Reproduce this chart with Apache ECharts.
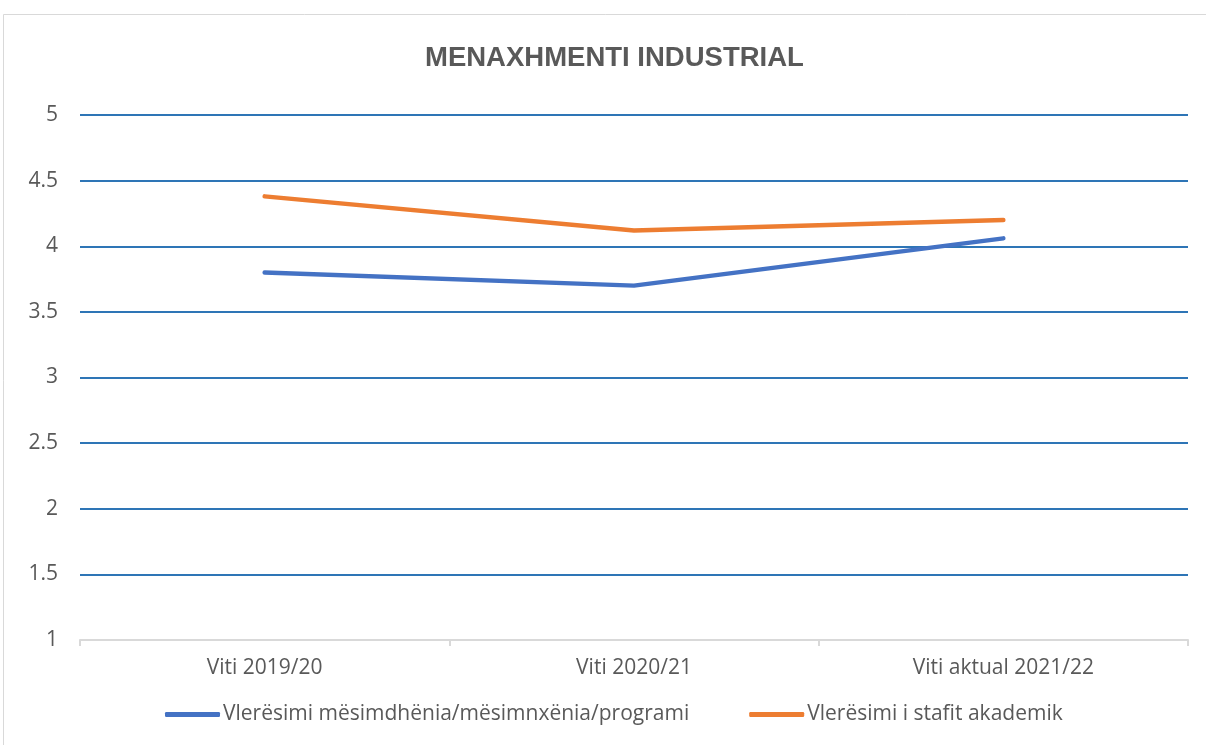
<!DOCTYPE html>
<html><head><meta charset="utf-8">
<script src="https://cdn.jsdelivr.net/npm/echarts@6/dist/echarts.min.js"></script>
<style>html,body{margin:0;padding:0;background:#fff}#c{width:1206px;height:745px}</style>
</head><body><div id="c"></div>
<script>
const categories = ['Viti 2019/20', 'Viti 2020/21', 'Viti aktual 2021/22'];
const seriesNames = ['Vlerësimi mësimdhënia/mësimnxënia/programi', 'Vlerësimi i stafit akademik'];
const teaching = [3.80, 3.70, 4.06];
const staff = [4.38, 4.12, 4.20];
const yTicks = [1, 1.5, 2, 2.5, 3, 3.5, 4, 4.5, 5];

const FONT = '"Open Sans", "Liberation Sans", sans-serif';
const TFONT = '"Liberation Sans", sans-serif';
const chart = echarts.init(document.getElementById('c'), null, {renderer: 'canvas'});
chart.setOption({
  animation: false,
  backgroundColor: '#fff',
  graphic: [{type: 'rect', shape: {x: 3.5, y: 14.5, width: 1210, height: 740}, style: {fill: 'none', stroke: '#d9d9d9', lineWidth: 1}, silent: true}],
  title: {text: 'MENAXHMENTI INDUSTRIAL', left: 420, top: 39, textStyle: {fontFamily: TFONT, fontSize: 27.5, fontWeight: 'bold', color: '#595959'}},
  grid: {left: 80, right: 18, top: 115, bottom: 105},
  legend: {
    bottom: 15, left: 160, itemGap: 60, itemWidth: 55, itemHeight: 5,
    icon: 'roundRect',
    textStyle: {fontFamily: FONT, fontSize: 21, color: '#595959', padding: [0, 0, 0, -2]},
    data: seriesNames
  },
  xAxis: {
    type: 'category', data: categories, boundaryGap: true,
    axisLine: {lineStyle: {color: '#d9d9d9', width: 2}},
    axisTick: {show: true, length: 6, lineStyle: {color: '#d9d9d9', width: 2}},
    axisLabel: {fontFamily: FONT, fontSize: 21, color: '#595959', margin: 18}
  },
  yAxis: {
    type: 'value', min: 1, max: 5, interval: 0.5,
    axisLine: {show: false}, axisTick: {show: false},
    axisLabel: {fontFamily: FONT, fontSize: 21, color: '#595959', margin: 22, formatter: v => yTicks.includes(v) ? String(v) : ''},
    splitLine: {lineStyle: {color: '#2E75B6', width: 2}}
  },
  series: [
    {name: seriesNames[0], type: 'line', data: teaching, showSymbol: false, symbol: 'none', lineStyle: {color: '#4472C4', width: 4.5, cap: 'round'}, itemStyle: {color: '#4472C4'}},
    {name: seriesNames[1], type: 'line', data: staff, showSymbol: false, symbol: 'none', lineStyle: {color: '#ED7D31', width: 4.5, cap: 'round'}, itemStyle: {color: '#ED7D31'}}
  ]
});
</script></body></html>
